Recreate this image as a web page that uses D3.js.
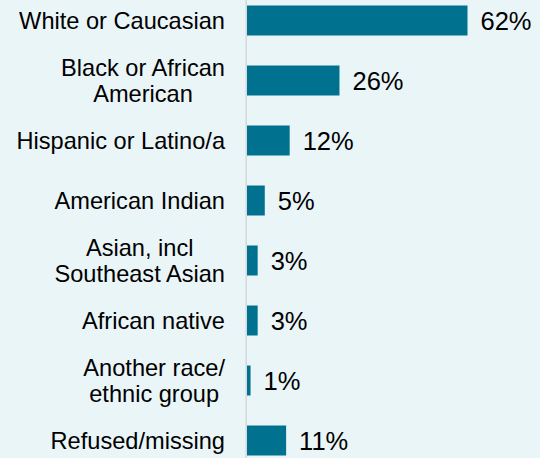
<!DOCTYPE html>
<html>
<head>
<meta charset="utf-8">
<script src="https://cdn.jsdelivr.net/npm/d3@7"></script>
<style>
  html, body { margin: 0; padding: 0; background: #eaf5f8; }
  svg { display: block; }
</style>
</head>
<body>
<svg id="chart" width="540" height="458"></svg>
<script>
// Race / ethnicity of respondents, share in percent
const categories = [
  "White or Caucasian",
  "Black or African\nAmerican",
  "Hispanic or Latino/a",
  "American Indian",
  "Asian, incl\nSoutheast Asian",
  "African native",
  "Another race/\nethnic group",
  "Refused/missing"
];
const values = [62, 26, 12, 5, 3, 3, 1, 11];
const valueLabels = ["62%", "26%", "12%", "5%", "3%", "3%", "1%", "11%"];

const W = 540, H = 458;
const axisX = 247;
const labelRight = 225;
const font = "'Liberation Sans', Arial, sans-serif";
const svg = d3.select("#chart");

svg.append("rect").attr("width", W).attr("height", H).attr("fill", "#eaf5f8");

const rows = categories.map((c, i) => ({ cat: c, value: values[i], label: valueLabels[i] }));

const y = d3.scaleBand()
  .domain(categories)
  .range([-9.5, 470.5])
  .paddingInner(0.5)
  .paddingOuter(0.25);

const x = d3.scaleLinear().domain([0, 62]).range([axisX, axisX + 220.5]);

// bars
svg.append("g").selectAll("rect").data(rows).join("rect")
  .attr("x", x(0))
  .attr("y", d => y(d.cat))
  .attr("width", d => x(d.value) - x(0))
  .attr("height", y.bandwidth())
  .attr("fill", "#00728f");

// category axis line
svg.append("line")
  .attr("x1", axisX - 0.8).attr("x2", axisX - 0.8)
  .attr("y1", 0).attr("y2", H)
  .attr("stroke", "#d6dadc").attr("stroke-width", 1.6);

// category labels: each block sits against the axis, lines centred within it
const lineH = 26.5;
const catG = svg.append("g")
  .attr("font-family", font)
  .attr("font-size", 23.6)
  .attr("fill", "#000");
rows.forEach(d => {
  const lines = d.cat.split("\n");
  const cy = y(d.cat) + y.bandwidth() / 2;
  const t = catG.append("text")
    .attr("text-anchor", "middle")
    .attr("y", cy - (lines.length - 1) * lineH / 2);
  const spans = lines.map((ln, j) =>
    t.append("tspan").attr("dy", j === 0 ? "0.35em" : lineH).text(ln));
  const maxW = d3.max(spans, s => s.node().getComputedTextLength());
  spans.forEach(s => s.attr("x", labelRight - maxW / 2));
});

// value labels
svg.append("g").selectAll("text").data(rows).join("text")
  .attr("x", d => x(d.value) + 13)
  .attr("y", d => y(d.cat) + y.bandwidth() / 2)
  .attr("dy", "0.36em")
  .attr("font-family", font)
  .attr("font-size", 25.5)
  .attr("fill", "#000")
  .text(d => d.label);
</script>
</body>
</html>
